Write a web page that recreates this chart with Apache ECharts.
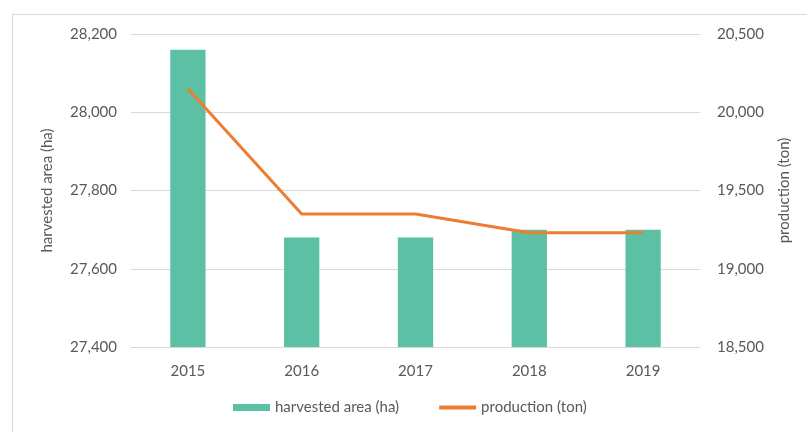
<!DOCTYPE html>
<html>
<head>
<meta charset="utf-8">
<script src="https://cdn.jsdelivr.net/npm/echarts@6/dist/echarts.min.js"></script>
<style>
  html, body { margin: 0; padding: 0; background: #fff; }
  #chart { width: 807px; height: 432px; }
</style>
</head>
<body>
<div id="chart"></div>
<script>
// values
const years = ['2015', '2016', '2017', '2018', '2019'];
const harvestedArea = [28160, 27680, 27680, 27700, 27700];
const production = [20150, 19350, 19350, 19230, 19230];

const textColor = '#595959';
const gridColor = '#d9d9d9';
const fontFamily = 'Lato, "Noto Sans", sans-serif';
const fontSize = 15;

const chart = echarts.init(document.getElementById('chart'));

const option = {
  backgroundColor: '#fff',
  animation: false,
  textStyle: { fontFamily: fontFamily, color: textColor },
  graphic: [{
    type: 'rect',
    left: 10,
    top: 12,
    shape: { width: 810, height: 440 },
    style: { fill: 'none', stroke: '#d9d9d9', lineWidth: 1 },
    silent: true
  }],
  grid: { left: 131, right: 107, top: 34, bottom: 85 },
  legend: {
    left: 228,
    bottom: 12,
    itemGap: 40,
    itemWidth: 37,
    itemHeight: 7,
    textStyle: { color: textColor, fontSize: fontSize, fontFamily: fontFamily },
    data: [
      { name: 'harvested area (ha)', icon: 'rect' },
      { name: 'production (ton)', icon: 'path://M0,0H37V4H0Z' }
    ]
  },
  xAxis: {
    type: 'category',
    data: years,
    axisLine: { show: true, lineStyle: { color: gridColor } },
    axisTick: { show: false },
    axisLabel: { color: textColor, fontSize: fontSize, margin: 17 }
  },
  yAxis: [
    {
      type: 'value',
      name: 'harvested area (ha)',
      nameLocation: 'middle',
      nameRotate: 90,
      nameGap: 76,
      nameTextStyle: { color: textColor, fontSize: fontSize },
      min: 27400,
      max: 28200,
      interval: 200,
      axisLine: { show: false },
      axisTick: { show: false },
      axisLabel: { color: textColor, fontSize: fontSize, margin: 14 },
      splitLine: { lineStyle: { color: gridColor } }
    },
    {
      type: 'value',
      name: 'production (ton)',
      nameLocation: 'middle',
      nameRotate: 90,
      nameGap: 77,
      nameTextStyle: { color: textColor, fontSize: fontSize },
      min: 18500,
      max: 20500,
      interval: 500,
      axisLine: { show: false },
      axisTick: { show: false },
      axisLabel: { color: textColor, fontSize: fontSize, margin: 17 },
      splitLine: { show: false }
    }
  ],
  series: [
    {
      name: 'harvested area (ha)',
      type: 'bar',
      yAxisIndex: 0,
      data: harvestedArea,
      barWidth: '31%',
      itemStyle: { color: '#5cc0a4' }
    },
    {
      name: 'production (ton)',
      type: 'line',
      yAxisIndex: 1,
      data: production,
      symbol: 'none',
      lineStyle: { color: '#ed7d31', width: 3 },
      itemStyle: { color: '#ed7d31' }
    }
  ]
};

chart.setOption(option);
</script>
</body>
</html>
